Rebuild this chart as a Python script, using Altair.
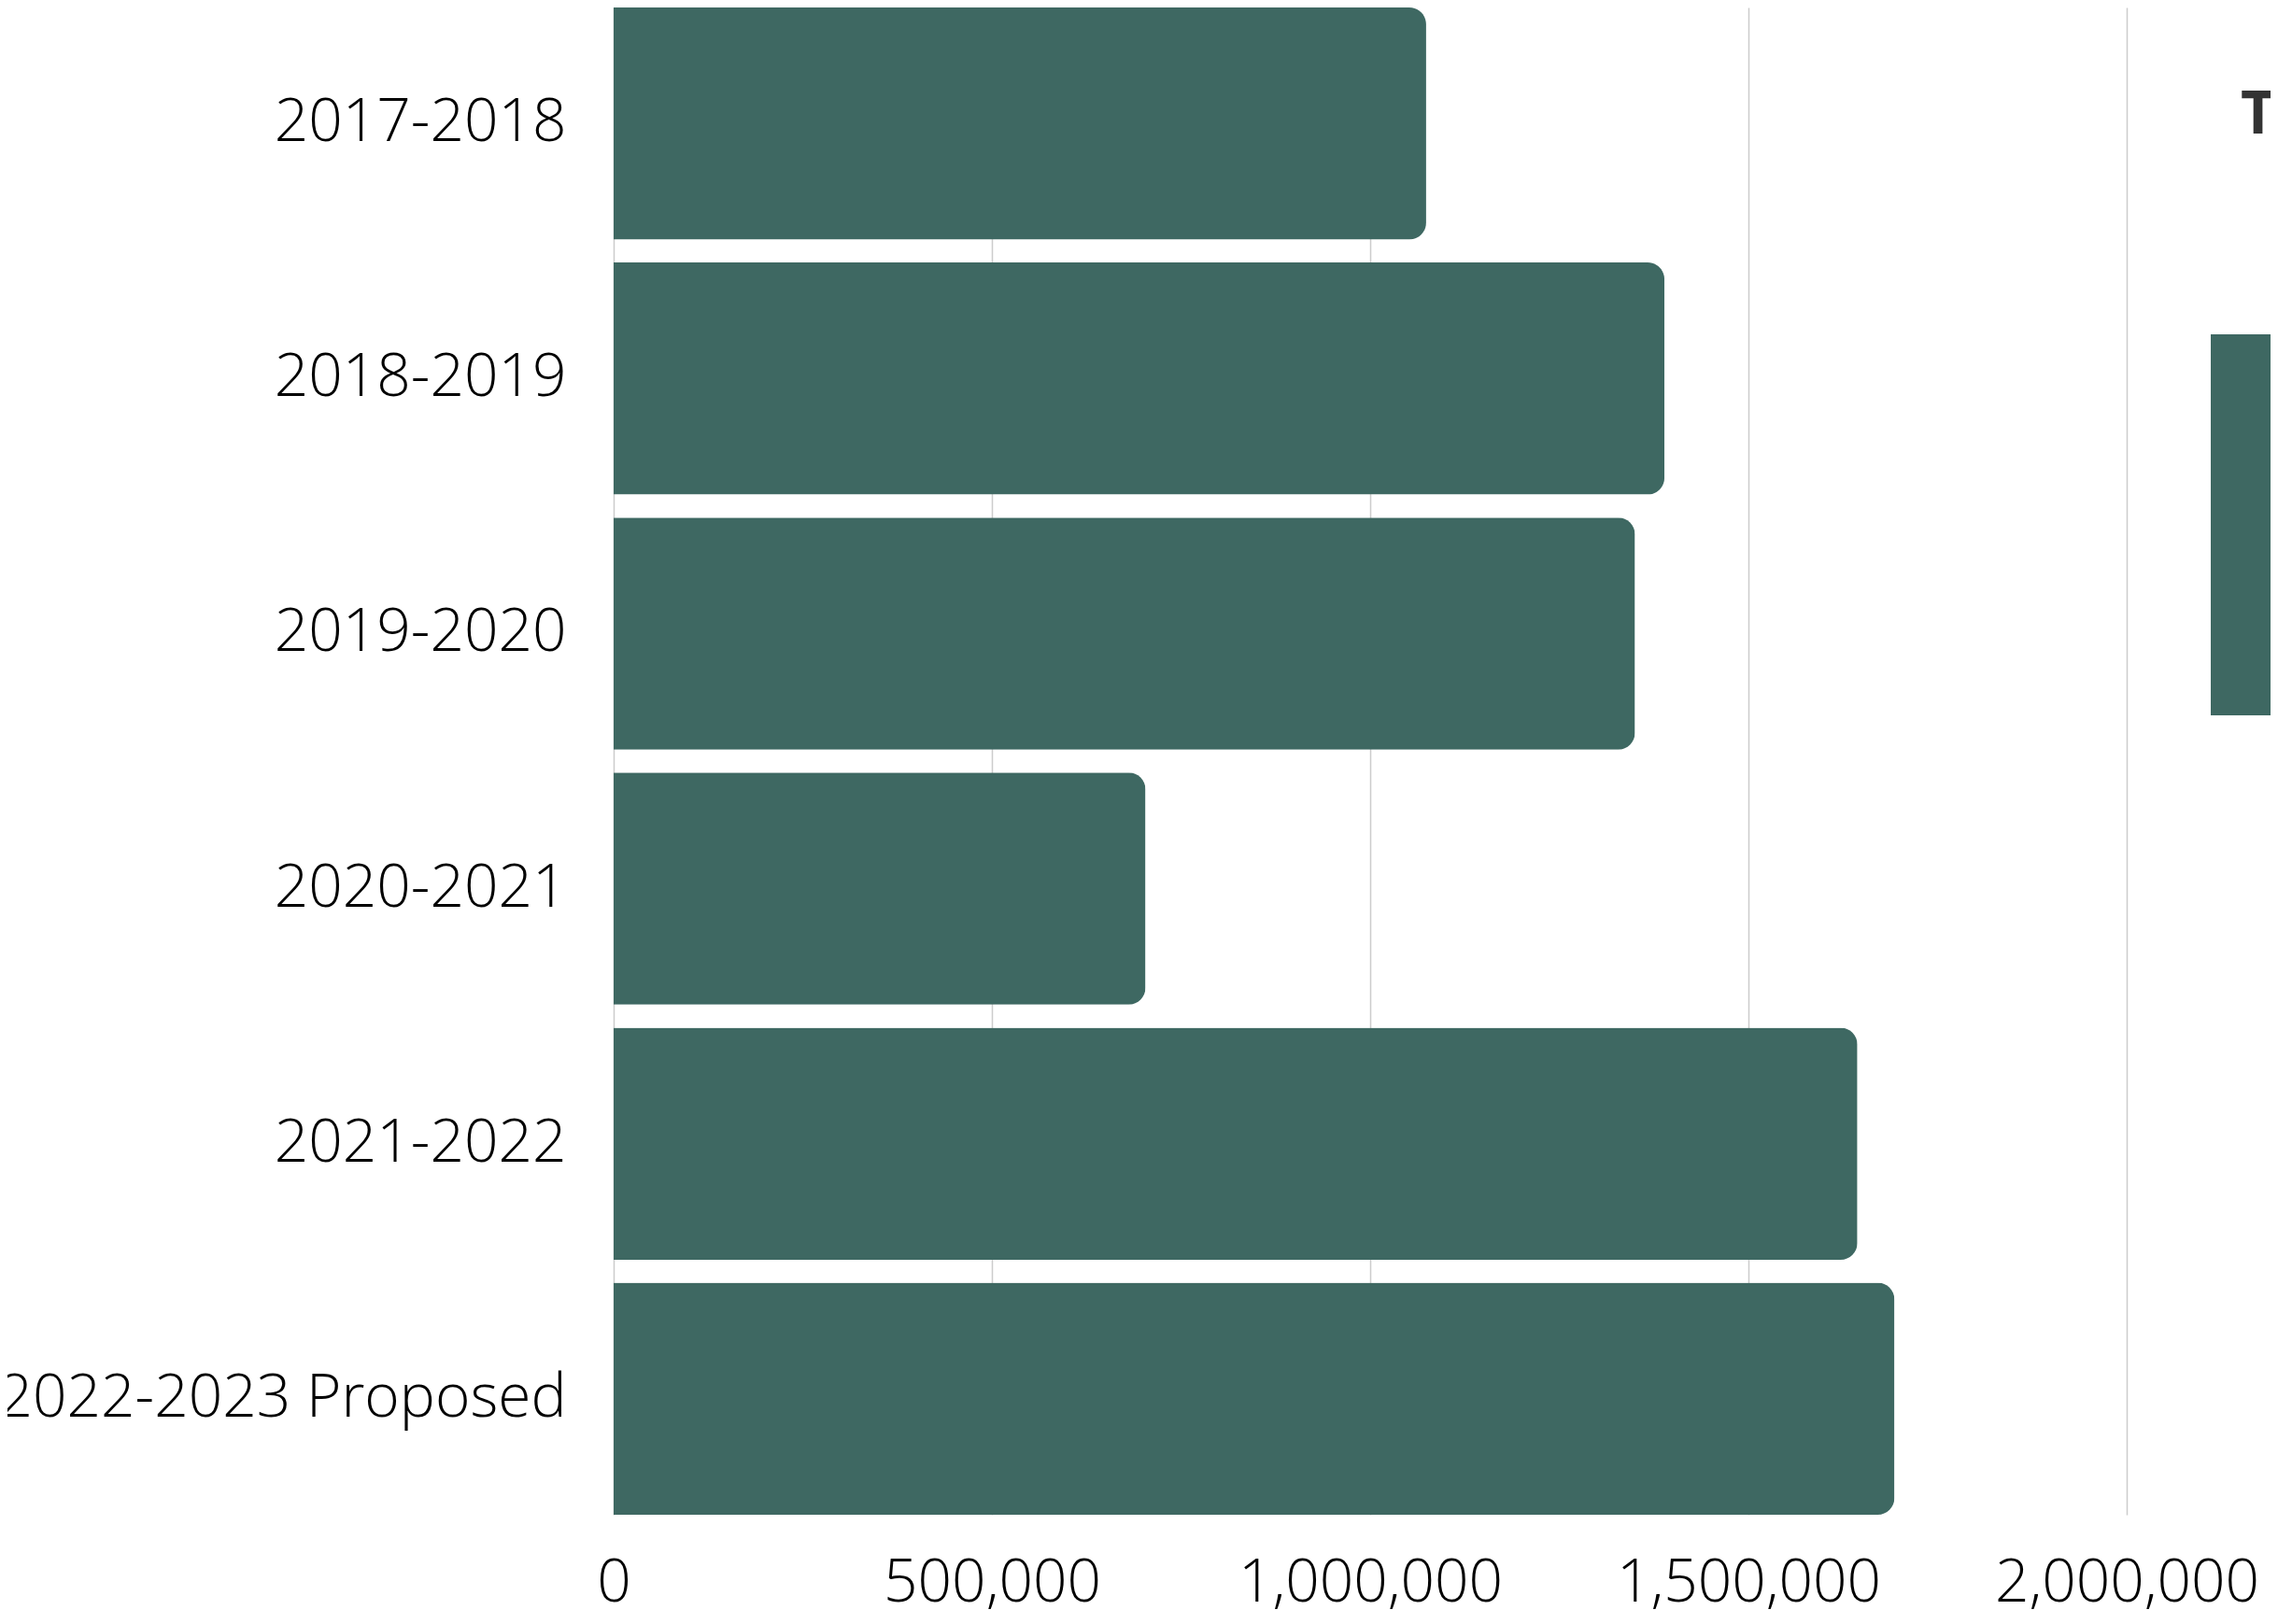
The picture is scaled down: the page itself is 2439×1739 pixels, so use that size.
import altair as alt
import pandas as pd

years = ["2017-2018", "2018-2019", "2019-2020", "2020-2021", "2021-2022", "2022-2023 Proposed"]
values = [1074000, 1389000, 1350000, 703000, 1644000, 1693000]
series = ["Total Budget"] * len(years)
x_ticks = [0, 500000, 1000000, 1500000, 2000000]

df = pd.DataFrame({"year": years, "value": values, "series": series})

FONT = "Open Sans"

chart = (
    alt.Chart(df)
    .mark_bar(cornerRadiusEnd=18)
    .encode(
        y=alt.Y(
            "year:N",
            sort=years,
            scale=alt.Scale(paddingInner=0.09, paddingOuter=0),
            axis=alt.Axis(
                title=None,
                labelFont=FONT,
                labelFontSize=64,
                labelFontWeight=300,
                labelColor="#000000",
                labelPadding=51,
                ticks=False,
                tickSize=0,
                domain=False,
                grid=False,
                labelLimit=1000,
            ),
        ),
        x=alt.X(
            "value:Q",
            scale=alt.Scale(domain=[0, 2000000], nice=False),
            axis=alt.Axis(
                title=None,
                values=x_ticks,
                format=",d",
                labelFont=FONT,
                labelFontSize=64,
                labelFontWeight=300,
                labelColor="#000000",
                labelPadding=41,
                labelLimit=1000,
                ticks=False,
                tickSize=0,
                domain=False,
                grid=True,
                gridColor="#cccccc",
                gridWidth=1.5,
                labelFlush=False,
            ),
        ),
        color=alt.Color(
            "series:N",
            scale=alt.Scale(range=["#3e6862"]),
            legend=alt.Legend(
                title="Total",
                orient="none",
                legendX=1742,
                legendY=84,
                padding=0,
                titleFont=FONT,
                titleFontSize=64,
                titleFontWeight="bold",
                titleColor="#333333",
                titlePadding=202,
                symbolType="square",
                symbolSize=166464,
                symbolStrokeWidth=0,
                symbolOffset=-32,
                labelFont=FONT,
                labelFontSize=60,
                labelColor="#333333",
            ),
        ),
    )
    .properties(
        width=1620,
        height=1614,
        autosize=alt.AutoSizeParams(type="none"),
        padding={"left": 649, "top": 0, "right": 154, "bottom": 109},
    )
    .configure_view(stroke=None)
)

chart.save("out.html", embed_options={"renderer": "svg", "actions": False})
